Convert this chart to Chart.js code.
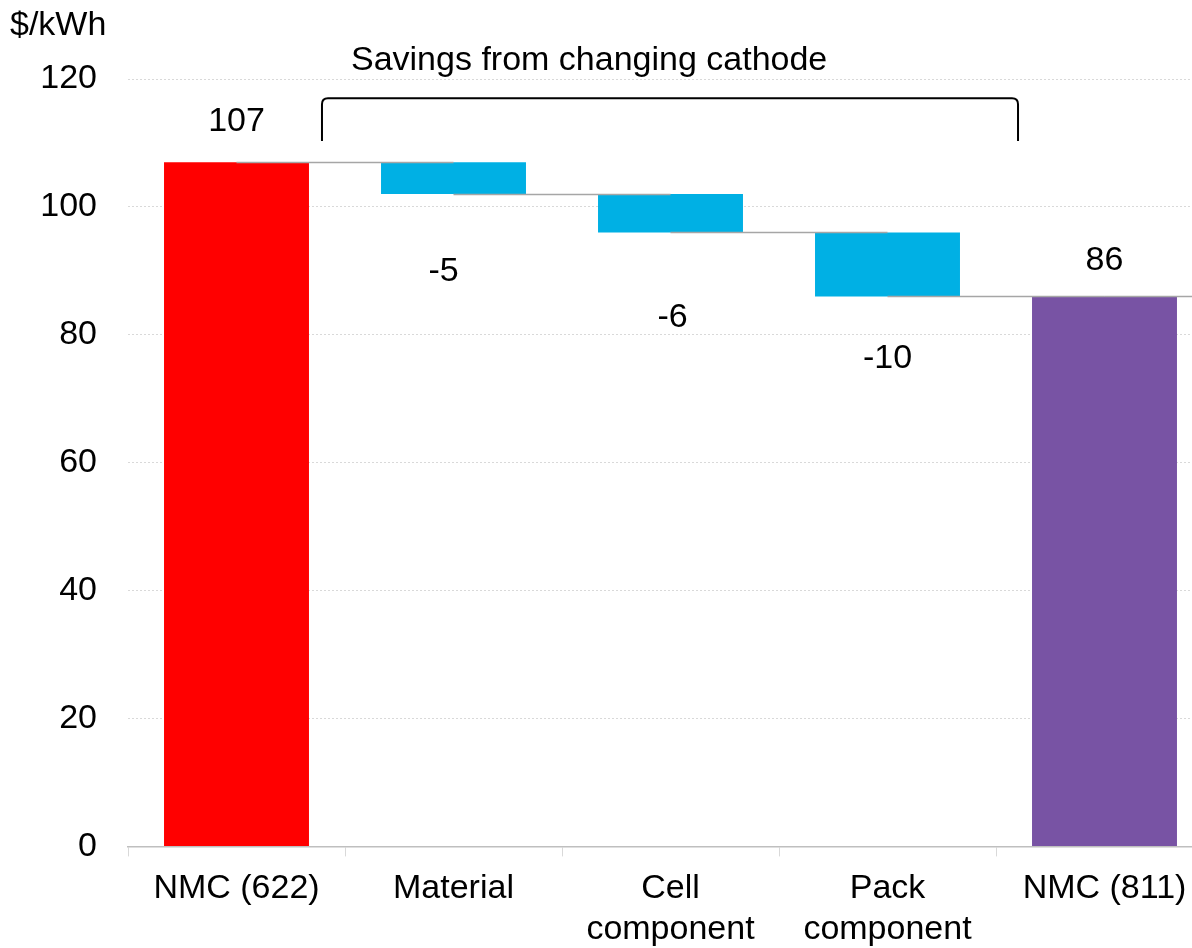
<!DOCTYPE html>
<html>
<head>
<meta charset="utf-8">
<script src="https://cdn.jsdelivr.net/npm/chart.js@4.4.1/dist/chart.umd.min.js"></script>
<style>
  html, body { margin: 0; padding: 0; background: #fff; overflow: hidden; }
  #wrap { width: 1192px; height: 948px; overflow: hidden; }
  canvas { display: block; }
</style>
</head>
<body>
<div id="wrap"><canvas id="costChart" width="1232" height="962"></canvas></div>
<script>
// ===== Chart data =====
const categories = ['NMC (622)', 'Material', ['Cell', 'component'], ['Pack', 'component'], 'NMC (811)'];
const values = [107, -5, -6, -10, 86];
const isTotal = [true, false, false, false, true];
const barColors = ['#ff0000', '#00b0e4', '#00b0e4', '#00b0e4', '#7853a4'];
const yTicks = [0, 20, 40, 60, 80, 100, 120];
const unitLabel = '$/kWh';
const bracketLabel = 'Savings from changing cathode';

// floating [low, high] pairs from the running total
let running = 0;
const floating = values.map((v, i) => {
  if (isTotal[i]) { running = v; return [0, v]; }
  const start = running;
  running = start + v;
  return [Math.min(start, running), Math.max(start, running)];
});
// level reached after each bar (for connector lines)
const levels = [];
running = 0;
values.forEach((v, i) => { running = isTotal[i] ? v : running + v; levels.push(running); });

const FONT = '"Liberation Sans", Arial, sans-serif';

// ===== Custom drawing: connectors, value labels, bracket, texts =====
const waterfallExtras = {
  id: 'waterfallExtras',
  afterDatasetsDraw(chart, args, opts) {
    const ctx = chart.ctx;
    const bars = chart.getDatasetMeta(0).data;
    const y = chart.scales.y;
    const area = chart.chartArea;

    // connector lines
    ctx.save();
    ctx.strokeStyle = '#a6a6a6';
    ctx.lineWidth = 1.5;
    for (let i = 0; i < bars.length; i++) {
      const py = Math.round(y.getPixelForValue(levels[i])) + 0.5;
      const x1 = i < bars.length - 1 ? bars[i + 1].x : area.right;
      ctx.beginPath();
      ctx.moveTo(bars[i].x, py);
      ctx.lineTo(x1, py);
      ctx.stroke();
    }
    ctx.restore();

    // value labels
    ctx.save();
    ctx.font = '34px ' + FONT;
    ctx.fillStyle = '#000';
    ctx.textAlign = 'center';
    ctx.textBaseline = 'alphabetic';
    bars.forEach((bar, i) => {
      const top = y.getPixelForValue(floating[i][1]);
      const bottom = y.getPixelForValue(floating[i][0]);
      const base = isTotal[i] ? top : bottom;
      ctx.fillText(String(values[i]), bar.x + opts.dx[i], base + opts.dy[i]);
    });
    ctx.restore();

    // bracket over the savings bars
    const left = bars[0].x + bars[0].width / 2 + 13;
    const right = bars[bars.length - 1].x - bars[bars.length - 1].width / 2 - 14;
    const bTop = y.getPixelForValue(117);
    const bBot = y.getPixelForValue(110.3);
    const r = 6;
    ctx.save();
    ctx.strokeStyle = '#000';
    ctx.lineWidth = 2;
    ctx.beginPath();
    ctx.moveTo(left, bBot);
    ctx.lineTo(left, bTop + r);
    ctx.quadraticCurveTo(left, bTop, left + r, bTop);
    ctx.lineTo(right - r, bTop);
    ctx.quadraticCurveTo(right, bTop, right, bTop + r);
    ctx.lineTo(right, bBot);
    ctx.stroke();

    ctx.font = '34px ' + FONT;
    ctx.fillStyle = '#000';
    ctx.textAlign = 'left';
    ctx.textBaseline = 'alphabetic';
    ctx.fillText(bracketLabel, left + 29, 70);
    ctx.fillText(unitLabel, 10, 35);
    ctx.restore();
  }
};

const ctx = document.getElementById('costChart').getContext('2d');
const costChart = new Chart(ctx, {
  type: 'bar',
  data: {
    labels: categories,
    datasets: [{
      data: floating,
      backgroundColor: barColors,
      borderWidth: 0,
      borderSkipped: false,
      barPercentage: 0.668,
      categoryPercentage: 1.0
    }]
  },
  options: {
    responsive: false,
    animation: false,
    devicePixelRatio: 1,
    layout: { padding: { top: 79, left: 0, right: 19, bottom: 0 } },
    plugins: {
      legend: { display: false },
      tooltip: { enabled: false },
      waterfallExtras: {
        dx: [0, -10, 2, 0, 0],
        dy: [-31, 87, 95, 72, -26]
      }
    },
    scales: {
      x: {
        offset: true,
        grid: {
          offset: true,
          drawOnChartArea: false,
          drawTicks: true,
          tickLength: 10,
          color: '#d9d9d9'
        },
        border: { display: true, color: '#bfbfbf', width: 1.5 },
        ticks: {
          color: '#000',
          font: { family: FONT, size: 34 },
          padding: 12,
          maxRotation: 0,
          autoSkip: false
        }
      },
      y: {
        min: 0,
        max: 120,
        afterFit(scale) { scale.width = 128; },
        afterBuildTicks(scale) { scale.ticks = yTicks.map(v => ({ value: v })); },
        grid: {
          color: '#d9d9d9',
          lineWidth: 1,
          drawTicks: false
        },
        border: { display: false, dash: [2, 2] },
        ticks: {
          color: '#000',
          font: { family: FONT, size: 34 },
          padding: 31
        }
      }
    }
  },
  plugins: [waterfallExtras]
});
</script>
</body>
</html>
